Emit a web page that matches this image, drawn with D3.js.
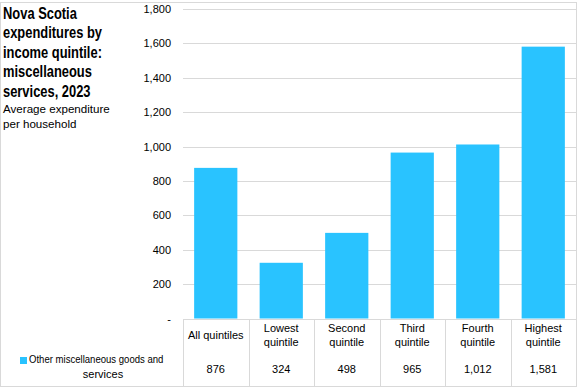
<!DOCTYPE html>
<html>
<head>
<meta charset="utf-8">
<script src="https://cdn.jsdelivr.net/npm/d3@7"></script>
<style>
  body { margin: 0; background: #fff; }
  svg text { font-family: "Liberation Sans", Arial, sans-serif; fill: #000; }
</style>
</head>
<body>
<div id="chart"></div>
<script>
// data
const categories = ["All quintiles", "Lowest quintile", "Second quintile", "Third quintile", "Fourth quintile", "Highest quintile"];
const catLines = [["All quintiles"], ["Lowest", "quintile"], ["Second", "quintile"], ["Third", "quintile"], ["Fourth", "quintile"], ["Highest", "quintile"]];
const values = [876, 324, 498, 965, 1012, 1581];
const yTicks = [0, 200, 400, 600, 800, 1000, 1200, 1400, 1600, 1800];
const seriesName = "Other miscellaneous goods and services";
const titleLines = ["Nova Scotia", "expenditures by", "income quintile:", "miscellaneous", "services, 2023"];
const subLines = ["Average expenditure", "per household"];

const W = 579, H = 389;
const barColor = "#29c3ff", gridColor = "#d9d9d9";
const plot = { left: 183, right: 576, top: 9, bottom: 318.5 };

const svg = d3.select("#chart").append("svg")
  .attr("width", W).attr("height", H);

// outer frame
svg.append("rect")
  .attr("x", 0.5).attr("y", 2.5)
  .attr("width", 576).attr("height", 384)
  .attr("fill", "none").attr("stroke", gridColor);

const x = d3.scaleBand()
  .domain(categories)
  .range([plot.left, plot.right])
  .paddingInner(0.34)
  .paddingOuter(0.17);

const y = d3.scaleLinear()
  .domain([0, 1800])
  .range([plot.bottom, plot.top]);

// gridlines
svg.append("g").selectAll("line")
  .data(yTicks.filter(d => d > 0))
  .join("line")
  .attr("x1", plot.left).attr("x2", plot.right)
  .attr("y1", d => Math.round(y(d)) + 0.5).attr("y2", d => Math.round(y(d)) + 0.5)
  .attr("stroke", gridColor);

// y axis labels
const yAxis = svg.append("g")
  .attr("transform", `translate(${plot.left - 12},0)`)
  .call(d3.axisLeft(y).tickValues(yTicks).tickSize(0)
    .tickFormat(d => d === 0 ? "-" : d3.format(",")(d)));
yAxis.select(".domain").remove();
yAxis.selectAll("text")
  .attr("x", 0)
  .style("font-size", "11px")
  .style("font-family", "Liberation Sans, Arial, sans-serif")
  .attr("fill", "#000");

// bars
svg.append("g").selectAll("rect")
  .data(values)
  .join("rect")
  .attr("x", (d, i) => x(categories[i]))
  .attr("y", d => y(d))
  .attr("width", x.bandwidth())
  .attr("height", d => y(0) - y(d))
  .attr("fill", barColor);

// data table under the chart
const tbl = svg.append("g");
const tTop = 319.5, tBottom = 386.5;
const step = x.step();
tbl.append("line")
  .attr("x1", plot.left).attr("x2", plot.right)
  .attr("y1", tTop).attr("y2", tTop)
  .attr("stroke", gridColor);
const edges = categories.map(c => x(c) - x.paddingOuter() * step);
tbl.selectAll("line.v")
  .data(edges)
  .join("line")
  .attr("class", "v")
  .attr("x1", d => Math.round(d) + 0.5).attr("x2", d => Math.round(d) + 0.5)
  .attr("y1", tTop).attr("y2", tBottom)
  .attr("stroke", gridColor);

categories.forEach((c, i) => {
  const cx = x(c) + x.bandwidth() / 2;
  const lines = catLines[i];
  const base = lines.length === 1 ? [339] : [332, 346];
  lines.forEach((t, j) => {
    tbl.append("text")
      .attr("x", cx).attr("y", base[j])
      .attr("text-anchor", "middle")
      .style("font-size", "11px")
      .text(t);
  });
  tbl.append("text")
    .attr("x", cx).attr("y", 373)
    .attr("text-anchor", "middle")
    .style("font-size", "11px")
    .text(d3.format(",")(values[i]));
});

// legend key in the table
const nameWords = seriesName.split(" ");
tbl.append("rect")
  .attr("x", 20).attr("y", 357)
  .attr("width", 7).attr("height", 7)
  .attr("fill", barColor);
tbl.append("text")
  .attr("transform", "translate(29,363) scale(0.87,1)")
  .style("font-size", "11px")
  .text(nameWords.slice(0, -1).join(" "));
tbl.append("text")
  .attr("x", 103).attr("y", 378)
  .attr("text-anchor", "middle")
  .style("font-size", "11px")
  .text(nameWords[nameWords.length - 1]);

// title (condensed bold)
const title = svg.append("g")
  .attr("transform", "translate(3,0) scale(0.76,1)");
title.selectAll("text")
  .data(titleLines)
  .join("text")
  .attr("x", 0)
  .attr("y", (d, i) => 19 + i * 19.5)
  .style("font-weight", "bold")
  .style("font-size", "17px")
  .text(d => d);

svg.append("g").selectAll("text")
  .data(subLines)
  .join("text")
  .attr("x", 3)
  .attr("y", (d, i) => 113 + i * 15)
  .style("font-size", "11.6px")
  .text(d => d);
</script>
</body>
</html>
